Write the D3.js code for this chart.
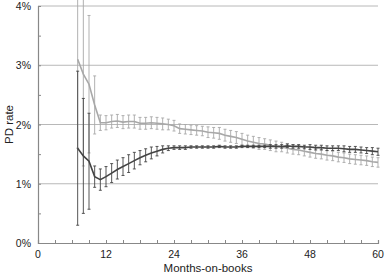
<!DOCTYPE html>
<html>
<head>
<meta charset="utf-8">
<script src="https://cdn.jsdelivr.net/npm/d3@7"></script>
<style>
  body { margin: 0; background: #fff; }
  text { font-family: "Liberation Sans", Arial, sans-serif; fill: #222; }
</style>
</head>
<body>
<div id="chart"></div>
<script>
// months-on-books for each plotted point
const months = d3.range(7, 61);

// light grey series: PD rate (%) and error half-width
const greyRate = [3.10, 2.85, 2.68, 2.33, 2.03, 2.03, 2.05, 2.06, 2.04, 2.05,
                  2.05, 2.02, 2.02, 2.03, 2.02, 2.01, 2.00, 1.98, 1.93, 1.92,
                  1.91, 1.90, 1.89, 1.87, 1.86, 1.85, 1.82, 1.80, 1.78, 1.75,
                  1.72, 1.70, 1.68, 1.67, 1.65, 1.63, 1.62, 1.60, 1.58, 1.57,
                  1.55, 1.53, 1.51, 1.50, 1.48, 1.47, 1.45, 1.44, 1.42, 1.41,
                  1.40, 1.39, 1.37, 1.36];
const greyErr = [1.50, 1.55, 1.16, 0.49, 0.13, 0.12, 0.11, 0.11, 0.11, 0.11,
                 0.11, 0.10, 0.10, 0.10, 0.10, 0.10, 0.09, 0.09, 0.08, 0.08,
                 0.08, 0.08, 0.08, 0.09, 0.09, 0.10, 0.10, 0.10, 0.10, 0.10,
                 0.10, 0.10, 0.10, 0.09, 0.09, 0.09, 0.08, 0.08, 0.08, 0.08,
                 0.08, 0.08, 0.08, 0.08, 0.08, 0.08, 0.08, 0.08, 0.08, 0.08,
                 0.08, 0.08, 0.08, 0.08];

// dark series
const darkRate = [1.60, 1.47, 1.38, 1.12, 1.07, 1.12, 1.18, 1.24, 1.29, 1.34,
                  1.39, 1.44, 1.48, 1.52, 1.55, 1.58, 1.60, 1.61, 1.61, 1.61,
                  1.62, 1.62, 1.62, 1.62, 1.62, 1.63, 1.62, 1.62, 1.62, 1.63,
                  1.63, 1.63, 1.63, 1.63, 1.63, 1.63, 1.63, 1.64, 1.63, 1.63,
                  1.62, 1.62, 1.61, 1.61, 1.60, 1.60, 1.60, 1.59, 1.58, 1.58,
                  1.57, 1.56, 1.55, 1.54];
const darkErr = [1.30, 0.97, 0.81, 0.18, 0.18, 0.17, 0.16, 0.16, 0.15, 0.15,
                 0.14, 0.12, 0.11, 0.10, 0.08, 0.06, 0.04, 0.03, 0.03, 0.03,
                 0.02, 0.02, 0.02, 0.02, 0.02, 0.02, 0.02, 0.02, 0.02, 0.02,
                 0.02, 0.02, 0.02, 0.02, 0.03, 0.03, 0.03, 0.03, 0.03, 0.03,
                 0.03, 0.04, 0.04, 0.04, 0.04, 0.04, 0.04, 0.05, 0.05, 0.05,
                 0.05, 0.05, 0.06, 0.06];

const xTicks = [0, 12, 24, 36, 48, 60];
const yTicks = [0, 1, 2, 3, 4];

const W = 386, H = 277;
const margin = {top: 6, right: 8, bottom: 34, left: 38};

const svg = d3.select("#chart").append("svg")
    .attr("width", W)
    .attr("height", H);

const x = d3.scaleLinear().domain([0, 60]).range([margin.left, W - margin.right]);
const y = d3.scaleLinear().domain([0, 4]).range([H - margin.bottom, margin.top]);

// horizontal grid lines
svg.append("g").selectAll("line")
    .data(yTicks.slice(1))
    .enter().append("line")
    .attr("x1", x(0)).attr("x2", x(60))
    .attr("y1", d => y(d)).attr("y2", d => y(d))
    .attr("stroke", "#b8b8b8")
    .attr("stroke-width", 1);

// axes
const xAxis = svg.append("g")
    .attr("transform", `translate(0,${y(0)})`)
    .call(d3.axisBottom(x).tickValues(d3.range(0, 61, 3)).tickSize(-3).tickFormat(""));
xAxis.append("g").selectAll("text")
    .data(xTicks)
    .enter().append("text")
    .attr("x", d => x(d))
    .attr("y", 15)
    .attr("text-anchor", "middle")
    .style("font-size", "10.5px")
    .text(d => d);

const yAxis = svg.append("g")
    .attr("transform", `translate(${x(0)},0)`)
    .call(d3.axisLeft(y).tickValues(d3.range(0, 4.01, 0.5)).tickSize(-3).tickFormat(""));
yAxis.append("g").selectAll("text")
    .data(yTicks)
    .enter().append("text")
    .attr("x", -7)
    .attr("y", d => y(d) + 4)
    .attr("text-anchor", "end")
    .style("font-size", "10.5px")
    .text(d => d + "%");

svg.selectAll(".domain").attr("stroke", "#888").attr("stroke-width", 1.2);
svg.selectAll(".tick line").attr("stroke", "#888");

// axis titles
svg.append("text")
    .attr("x", (x(0) + x(60)) / 2)
    .attr("y", H - 5)
    .attr("text-anchor", "middle")
    .style("font-size", "11.5px")
    .text("Months-on-books");

svg.append("text")
    .attr("transform", `translate(13,${(y(0) + y(4)) / 2}) rotate(-90)`)
    .attr("text-anchor", "middle")
    .style("font-size", "11.5px")
    .text("PD rate");

function drawSeries(rate, err, color, width) {
    const pts = months.map((m, i) => ({m: m, v: rate[i], e: err[i]}));
    const g = svg.append("g");

    const bars = g.selectAll(".bar")
        .data(pts)
        .enter().append("g")
        .attr("stroke", color)
        .attr("stroke-width", 0.9);
    bars.append("line")
        .attr("x1", d => x(d.m)).attr("x2", d => x(d.m))
        .attr("y1", d => y(d.v - d.e)).attr("y2", d => y(d.v + d.e));
    bars.append("line")
        .attr("x1", d => x(d.m) - 1.5).attr("x2", d => x(d.m) + 1.5)
        .attr("y1", d => y(d.v - d.e)).attr("y2", d => y(d.v - d.e));
    bars.append("line")
        .attr("x1", d => x(d.m) - 1.5).attr("x2", d => x(d.m) + 1.5)
        .attr("y1", d => y(d.v + d.e)).attr("y2", d => y(d.v + d.e));

    g.append("path")
        .datum(pts)
        .attr("fill", "none")
        .attr("stroke", color)
        .attr("stroke-width", width)
        .attr("d", d3.line().x(d => x(d.m)).y(d => y(d.v)));
}

drawSeries(greyRate, greyErr, "#a8a8a8", 1.6);
drawSeries(darkRate, darkErr, "#444444", 1.6);
</script>
</body>
</html>
